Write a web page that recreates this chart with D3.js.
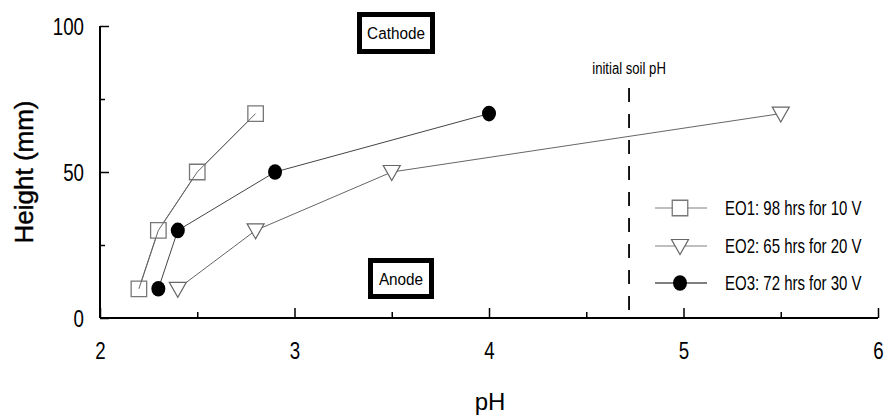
<!DOCTYPE html>
<html>
<head>
<meta charset="utf-8">
<script src="https://cdn.jsdelivr.net/npm/d3@7"></script>
<style>
  body { margin: 0; background: #fff; }
  text { font-family: "Liberation Sans", Arial, sans-serif; }
</style>
</head>
<body>
<svg width="885" height="417"></svg>
<script>
// data
var seriesNames = ["EO1: 98 hrs for 10 V", "EO2: 65 hrs for 20 V", "EO3: 72 hrs for 30 V"];
var heights = [10, 30, 50, 70];
var pHEO1 = [2.2, 2.3, 2.5, 2.8];
var pHEO2 = [2.4, 2.8, 3.5, 5.5];
var pHEO3 = [2.3, 2.4, 2.9, 4.0];
var xTicks = [2, 3, 4, 5, 6];
var yTicks = [0, 50, 100];
var initialPH = 4.72;

var NARROW = 0.78; // fake a condensed face

var svg = d3.select("svg");
var x = d3.scaleLinear().domain([2, 6]).range([100, 878]);
var y = d3.scaleLinear().domain([0, 100]).range([318, 26]);

// x axis: ticks pointing up, integers longer
var xAxis = svg.append("g").attr("transform", "translate(0,318)")
    .call(d3.axisTop(x).tickValues(d3.range(2, 6.01, 0.5)).tickSize(6).tickFormat(""));
xAxis.selectAll(".tick line").attr("stroke-width", 1.5)
    .attr("y2", function(d) { return d % 1 === 0 ? -10 : -6; });
xAxis.select(".domain").attr("stroke-width", 2).attr("d", "M100,0H878");
svg.append("g").attr("transform", "translate(0,318)")
    .call(d3.axisBottom(x).tickValues(xTicks).tickSize(0).tickPadding(24).tickFormat(d3.format("d")))
    .call(function(g) { g.select(".domain").remove(); })
    .selectAll("text").attr("font-size", 24).attr("fill", "#000")
    .attr("transform", "scale(" + NARROW + ",1)");

var yAxis = svg.append("g").attr("transform", "translate(100,0)")
    .call(d3.axisRight(y).tickValues([0, 25, 50, 75, 100]).tickSize(6).tickFormat(""));
yAxis.selectAll(".tick line").attr("stroke-width", 1.5)
    .attr("x2", function(d) { return d % 50 === 0 ? 9 : 5; });
yAxis.select(".domain").attr("stroke-width", 2).attr("d", "M0,26V318");
svg.append("g").attr("transform", "translate(100,0)")
    .call(d3.axisLeft(y).tickValues(yTicks).tickSize(0).tickPadding(16))
    .call(function(g) { g.select(".domain").remove(); })
    .selectAll("text").attr("font-size", 24).attr("fill", "#000")
    .attr("x", -16 / NARROW).attr("dy", "0.36em")
    .attr("transform", "scale(" + NARROW + ",1)");

svg.append("text").attr("transform", "translate(33,172) rotate(-90)")
    .attr("text-anchor", "middle").attr("font-size", 26)
    .attr("stroke", "#000").attr("stroke-width", 0.4).text("Height (mm)");
svg.append("text").attr("x", 490).attr("y", 410).attr("text-anchor", "middle")
    .attr("font-size", 24).text("pH");

// initial soil pH
svg.append("line").attr("x1", x(initialPH)).attr("x2", x(initialPH))
    .attr("y1", 88).attr("y2", 318).attr("stroke", "#000")
    .attr("stroke-width", 1.8).attr("stroke-dasharray", "14,12");
svg.append("text").attr("transform", "translate(" + x(initialPH) + ",74) scale(0.82,1)")
    .attr("text-anchor", "middle").attr("font-size", 16).text("initial soil pH");

var line = d3.line().x(function(d) { return x(d[0]); }).y(function(d) { return y(d[1]); });
function pts(arr) { return arr.map(function(v, i) { return [v, heights[i]]; }); }

var square = d3.symbol().type(d3.symbolSquare).size(240);
var tri = "M-8.5,-6.5L8.5,-6.5L0,8.5Z";

function drawMarker(g, kind) {
  if (kind === 0) g.append("path").attr("d", square()).attr("fill", "#fff").attr("stroke", "#777").attr("stroke-width", 1.3);
  else if (kind === 1) g.append("path").attr("d", tri).attr("fill", "#fff").attr("stroke", "#666").attr("stroke-width", 1.2);
  else g.append("ellipse").attr("rx", 7).attr("ry", 7.8).attr("fill", "#000");
}

[pHEO1, pHEO2, pHEO3].forEach(function(arr, k) {
  var data = pts(arr);
  svg.append("path").datum(data).attr("d", line).attr("fill", "none")
     .attr("stroke", k === 2 ? "#444" : "#666").attr("stroke-width", 1);
  data.forEach(function(d) {
    var g = svg.append("g").attr("transform", "translate(" + x(d[0]) + "," + y(d[1]) + ")");
    drawMarker(g, k);
  });
});
// the open squares do not hide their line in the original
svg.append("path").datum(pts(pHEO1)).attr("d", line).attr("fill", "none")
   .attr("stroke", "#666").attr("stroke-width", 1);

// legend
var legY = [208, 246, 283];
seriesNames.forEach(function(name, k) {
  svg.append("line").attr("x1", 655).attr("x2", 707).attr("y1", legY[k]).attr("y2", legY[k])
     .attr("stroke", k === 2 ? "#555" : "#aaa").attr("stroke-width", 1.3);
  var g = svg.append("g").attr("transform", "translate(680," + legY[k] + ")");
  drawMarker(g, k);
  svg.append("text").attr("transform", "translate(725," + (legY[k] + 7) + ") scale(0.75,1)")
     .attr("font-size", 20).text(name);
});

// electrode labels
function boxLabel(txt, bx, by, w, h, base) {
  svg.append("rect").attr("x", bx).attr("y", by).attr("width", w).attr("height", h)
     .attr("fill", "#fff").attr("stroke", "#000").attr("stroke-width", 5);
  svg.append("text").attr("transform", "translate(" + (bx + w / 2) + "," + base + ") scale(0.9,1)")
     .attr("text-anchor", "middle").attr("font-family", "Open Sans, sans-serif")
     .attr("font-weight", 400).attr("font-size", 17).text(txt);
}
boxLabel("Cathode", 359.5, 14.5, 73, 37, 39);
boxLabel("Anode", 370.5, 260.5, 61, 36, 285);
</script>
</body>
</html>
